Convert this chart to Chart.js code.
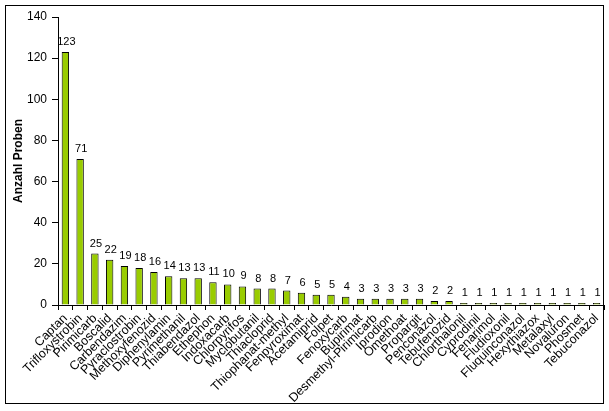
<!DOCTYPE html>
<html>
<head>
<meta charset="utf-8">
<script src="https://cdn.jsdelivr.net/npm/chart.js@4/dist/chart.umd.min.js"></script>
<style>
  body { margin: 0; background: #fff; }
  #chart { display: block; }
</style>
</head>
<body>
<canvas id="chart" width="609" height="411"></canvas>
<script>
// Wirkstoffe & Anzahl Proben
const wirkstoffe = [
  "Captan", "Trifloxystrobin", "Pirimicarb", "Boscalid", "Carbendazim",
  "Pyraclostrobin", "Methoxyfenozid", "Diphenylamin", "Pyrimethanil", "Thiabendazol",
  "Ethephon", "Indoxacarb", "Chlorpyrifos", "Myclobutanil", "Thiacloprid",
  "Thiophanat-methyl", "Fenpyroximat", "Acetamiprid", "Folpet", "Fenoxycarb",
  "Bupirimat", "Desmethyl-Pirimicarb", "Iprodion", "Omethoat", "Propargit",
  "Penconazol", "Tebufenozid", "Chlorthalonil", "Cyprodinil", "Fenarimol",
  "Fludioxonil", "Fluquinconazol", "Hexythiazox", "Metalaxyl", "Novaluron",
  "Phosmet", "Tebuconazol"
];
const anzahl = [
  123, 71, 25, 22, 19, 18, 16, 14, 13, 13,
  11, 10, 9, 8, 8, 7, 6, 5, 5, 4,
  3, 3, 3, 3, 3, 2, 2, 1, 1, 1,
  1, 1, 1, 1, 1, 1, 1
];
const yTicks = [0, 20, 40, 60, 80, 100, 120, 140];

const FONT = "'Liberation Sans', Arial, sans-serif";

// Rahmen um das Diagramm + Werte über den Balken
const extras = {
  id: "extras",
  afterDatasetsDraw(chart) {
    const ctx = chart.ctx;
    const meta = chart.getDatasetMeta(0);
    ctx.save();
    ctx.fillStyle = "#000";
    ctx.font = "11px " + FONT;
    ctx.textAlign = "center";
    ctx.textBaseline = "alphabetic";
    meta.data.forEach((bar, i) => {
      ctx.fillText(String(anzahl[i]), bar.x + 1, bar.y - 7);
    });
    ctx.restore();
  },
  afterDraw(chart) {
    const ctx = chart.ctx;
    ctx.save();
    ctx.strokeStyle = "#000";
    ctx.lineWidth = 1;
    ctx.strokeRect(5.5, 5.5, 598, 398);
    ctx.restore();
  }
};

new Chart(document.getElementById("chart"), {
  type: "bar",
  data: {
    labels: wirkstoffe,
    datasets: [{
      data: anzahl,
      backgroundColor: "#99CC00",
      borderColor: "#000",
      borderWidth: 1,
      categoryPercentage: 1,
      barPercentage: 0.5
    }]
  },
  options: {
    responsive: false,
    animation: false,
    layout: { padding: { top: 17, right: 5, left: 0, bottom: 0 } },
    plugins: {
      legend: { display: false },
      tooltip: { enabled: false }
    },
    scales: {
      x: {
        grid: { display: true, drawOnChartArea: false, drawTicks: true, tickLength: 5, color: "#000", offset: true },
        border: { color: "#000", width: 1 },
        ticks: {
          autoSkip: false,
          maxRotation: 45,
          minRotation: 45,
          padding: 1,
          color: "#000",
          font: { family: FONT, size: 12.5 }
        },
        afterFit(scale) {
          scale.height = 106;
          scale.paddingLeft = 0;
          scale.paddingRight = 0;
        }
      },
      y: {
        min: 0,
        max: 140,
        afterBuildTicks(scale) {
          scale.ticks = yTicks.map(v => ({ value: v }));
        },
        grid: { display: true, drawOnChartArea: false, drawTicks: true, tickLength: 6, color: "#000" },
        border: { color: "#000", width: 1 },
        ticks: {
          padding: 5,
          color: "#000",
          font: { family: FONT, size: 12 }
        },
        title: {
          display: true,
          text: "Anzahl Proben",
          color: "#000",
          font: { family: FONT, size: 12, weight: "bold" },
          padding: { top: 11, bottom: 0 }
        },
        afterFit(scale) {
          scale.width = 58;
          scale.paddingTop = 0;
          scale.paddingBottom = 0;
        }
      }
    }
  },
  plugins: [extras]
});
</script>
</body>
</html>
